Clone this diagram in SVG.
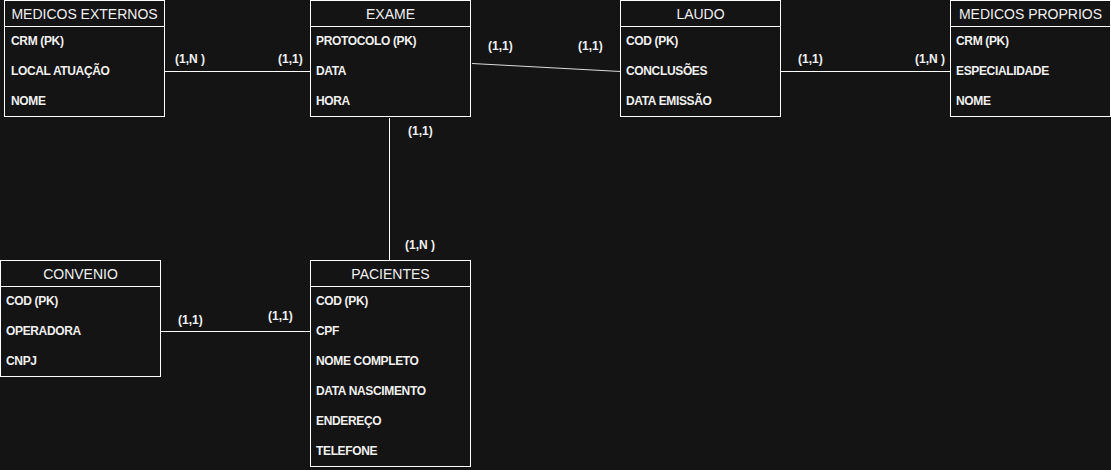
<svg xmlns="http://www.w3.org/2000/svg" width="1111" height="470" viewBox="0 0 1111 470">
<style>
.box{fill:#141414;stroke:#ffffff;stroke-width:1}
.hl{stroke:#ffffff;stroke-width:1}
.h{font-family:"Liberation Sans",Arial,sans-serif;font-size:14px;fill:#f0f0f0;text-anchor:middle}
.r{font-family:"Liberation Sans",Arial,sans-serif;font-size:12px;font-weight:bold;fill:#f0f0f0;letter-spacing:-0.35px}
.c{font-family:"Liberation Sans",Arial,sans-serif;font-size:12px;font-weight:bold;fill:#f0f0f0}
.ln{stroke:#ffffff;stroke-width:1;fill:none}
</style>
<rect width="1111" height="470" fill="#141414"/>
<g id="connectors">
<line class="ln" x1="164.5" y1="71.5" x2="310.5" y2="71.5"/>
<line class="ln" x1="472" y1="63.5" x2="620.5" y2="71.5" stroke-opacity="0.85"/>
<line class="ln" x1="780.5" y1="71.5" x2="950.5" y2="71.5"/>
<line class="ln" x1="389.5" y1="118" x2="389.5" y2="260.5"/>
<line class="ln" x1="160.5" y1="331.5" x2="310.5" y2="331.5"/>
<text class="c" x="175" y="63">(1,N )</text>
<text class="c" x="278" y="63">(1,1)</text>
<text class="c" x="488" y="50">(1,1)</text>
<text class="c" x="578" y="50">(1,1)</text>
<text class="c" x="798" y="63">(1,1)</text>
<text class="c" x="915" y="63">(1,N )</text>
<text class="c" x="408" y="135">(1,1)</text>
<text class="c" x="405" y="249">(1,N )</text>
<text class="c" x="178" y="324">(1,1)</text>
<text class="c" x="268" y="320">(1,1)</text>
</g>
<g id="medicos-externos">
<rect class="box" x="4.5" y="0.5" width="160" height="116"/>
<line class="hl" x1="4.5" y1="26.5" x2="164.5" y2="26.5"/>
<text class="h" x="84.5" y="19">MEDICOS EXTERNOS</text>
<text class="r" x="11" y="45">CRM (PK)</text>
<text class="r" x="11" y="75">LOCAL ATUAÇÃO</text>
<text class="r" x="11" y="105">NOME</text>
</g>
<g id="exame">
<rect class="box" x="310.5" y="0.5" width="160" height="116"/>
<line class="hl" x1="310.5" y1="26.5" x2="470.5" y2="26.5"/>
<text class="h" x="390.5" y="19">EXAME</text>
<text class="r" x="316" y="45">PROTOCOLO (PK)</text>
<text class="r" x="316" y="75">DATA</text>
<text class="r" x="316" y="105">HORA</text>
</g>
<g id="laudo">
<rect class="box" x="620.5" y="0.5" width="160" height="116"/>
<line class="hl" x1="620.5" y1="26.5" x2="780.5" y2="26.5"/>
<text class="h" x="700.5" y="19">LAUDO</text>
<text class="r" x="626" y="45">COD (PK)</text>
<text class="r" x="626" y="75">CONCLUSÕES</text>
<text class="r" x="626" y="105">DATA EMISSÃO</text>
</g>
<g id="medicos-proprios">
<rect class="box" x="950.5" y="0.5" width="160" height="116"/>
<line class="hl" x1="950.5" y1="26.5" x2="1110.5" y2="26.5"/>
<text class="h" x="1030.5" y="19">MEDICOS PROPRIOS</text>
<text class="r" x="956" y="45">CRM (PK)</text>
<text class="r" x="956" y="75">ESPECIALIDADE</text>
<text class="r" x="956" y="105">NOME</text>
</g>
<g id="convenio">
<rect class="box" x="0.5" y="260.5" width="160" height="116"/>
<line class="hl" x1="0.5" y1="286.5" x2="160.5" y2="286.5"/>
<text class="h" x="80.5" y="279">CONVENIO</text>
<text class="r" x="6" y="305">COD (PK)</text>
<text class="r" x="6" y="335">OPERADORA</text>
<text class="r" x="6" y="365">CNPJ</text>
</g>
<g id="pacientes">
<rect class="box" x="310.5" y="260.5" width="160" height="206"/>
<line class="hl" x1="310.5" y1="286.5" x2="470.5" y2="286.5"/>
<text class="h" x="390.5" y="279">PACIENTES</text>
<text class="r" x="316" y="305">COD (PK)</text>
<text class="r" x="316" y="335">CPF</text>
<text class="r" x="316" y="365">NOME COMPLETO</text>
<text class="r" x="316" y="395">DATA NASCIMENTO</text>
<text class="r" x="316" y="425">ENDEREÇO</text>
<text class="r" x="316" y="455">TELEFONE</text>
</g>
</svg>
